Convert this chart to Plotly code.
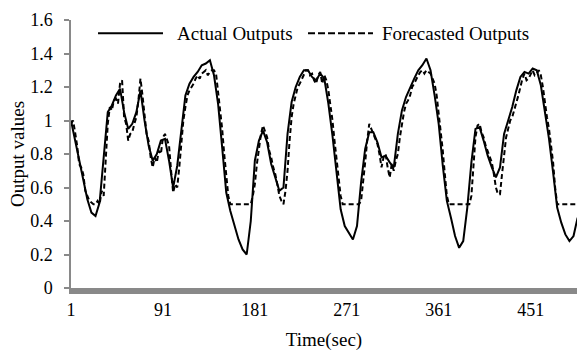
import plotly.graph_objects as go

# ---- data ----
time_sec = list(range(1, 498, 4))

actual_outputs = [
    1.00, 0.88, 0.77, 0.63, 0.53, 0.45, 0.43, 0.51, 0.78, 1.05,
    1.09, 1.15, 1.19, 1.05, 0.95, 0.98, 1.05, 1.18, 1.00, 0.85,
    0.76, 0.80, 0.88, 0.89, 0.76, 0.60, 0.73, 0.95, 1.15, 1.22,
    1.26, 1.29, 1.33, 1.34, 1.36, 1.27, 1.10, 0.84, 0.57, 0.46,
    0.37, 0.29, 0.23, 0.20, 0.40, 0.76, 0.88, 0.94, 0.87, 0.74,
    0.66, 0.58, 0.60, 0.92, 1.11, 1.20, 1.26, 1.30, 1.30, 1.26,
    1.24, 1.28, 1.25, 1.10, 0.91, 0.68, 0.47, 0.37, 0.33, 0.29,
    0.37, 0.63, 0.83, 0.93, 0.93, 0.87, 0.78, 0.79, 0.75, 0.72,
    0.92, 1.06, 1.14, 1.20, 1.25, 1.30, 1.33, 1.37, 1.30, 1.15,
    0.98, 0.73, 0.52, 0.42, 0.31, 0.24, 0.28, 0.48, 0.75, 0.95,
    0.96, 0.88, 0.79, 0.72, 0.66, 0.72, 0.92, 1.00, 1.08, 1.18,
    1.26, 1.29, 1.28, 1.31, 1.30, 1.21, 1.05, 0.89, 0.69, 0.48,
    0.39, 0.32, 0.28, 0.31, 0.42,
]

forecast_time_sec = list(range(1, 498, 2))

forecasted_outputs = [
    0.98, 1.00, 0.93, 0.85, 0.74, 0.72, 0.68, 0.58, 0.55, 0.52,  # t 1-19
    0.51, 0.50, 0.50, 0.52, 0.50, 0.58, 0.55, 0.80, 0.98, 1.08,  # t 21-39
    1.06, 1.12, 1.13, 1.10, 1.22, 1.24, 1.02, 0.98, 0.88, 0.92,  # t 41-59
    0.93, 0.98, 1.02, 1.12, 1.25, 1.15, 1.02, 0.92, 0.88, 0.78,  # t 61-79
    0.72, 0.78, 0.75, 0.82, 0.80, 0.90, 0.92, 0.88, 0.85, 0.70,  # t 81-99
    0.57, 0.62, 0.60, 0.72, 0.85, 1.00, 1.08, 1.15, 1.18, 1.20,  # t 101-119
    1.22, 1.25, 1.27, 1.25, 1.28, 1.29, 1.30, 1.27, 1.29, 1.30,  # t 121-139
    1.30, 1.28, 1.18, 1.08, 0.95, 0.80, 0.66, 0.55, 0.50, 0.50,  # t 141-159
    0.50, 0.50, 0.50, 0.50, 0.50, 0.50, 0.50, 0.50, 0.50, 0.55,  # t 161-179
    0.62, 0.74, 0.82, 0.92, 0.97, 0.93, 0.90, 0.82, 0.78, 0.72,  # t 181-199
    0.68, 0.62, 0.55, 0.52, 0.50, 0.58, 0.70, 0.88, 1.02, 1.10,  # t 201-219
    1.15, 1.20, 1.22, 1.25, 1.28, 1.30, 1.30, 1.27, 1.28, 1.24,  # t 221-239
    1.22, 1.27, 1.29, 1.22, 1.27, 1.24, 1.18, 1.10, 1.00, 0.88,  # t 241-259
    0.78, 0.65, 0.55, 0.50, 0.50, 0.50, 0.50, 0.50, 0.50, 0.50,  # t 261-279
    0.50, 0.50, 0.52, 0.62, 0.75, 0.88, 0.98, 0.95, 0.92, 0.88,  # t 281-299
    0.86, 0.80, 0.72, 0.78, 0.80, 0.72, 0.66, 0.74, 0.70, 0.76,  # t 301-319
    0.80, 0.90, 0.98, 1.05, 1.10, 1.12, 1.15, 1.20, 1.22, 1.25,  # t 321-339
    1.27, 1.29, 1.30, 1.28, 1.30, 1.29, 1.28, 1.25, 1.22, 1.15,  # t 341-359
    1.05, 0.95, 0.82, 0.68, 0.55, 0.50, 0.50, 0.50, 0.50, 0.50,  # t 361-379
    0.50, 0.50, 0.50, 0.50, 0.50, 0.50, 0.55, 0.72, 0.90, 0.97,  # t 381-399
    0.98, 0.93, 0.90, 0.85, 0.82, 0.78, 0.75, 0.68, 0.60, 0.56,  # t 401-419
    0.56, 0.68, 0.80, 0.90, 0.95, 1.00, 1.02, 1.06, 1.10, 1.15,  # t 421-439
    1.20, 1.25, 1.28, 1.24, 1.25, 1.28, 1.30, 1.27, 1.28, 1.30,  # t 441-459
    1.27, 1.20, 1.10, 1.02, 0.95, 0.85, 0.75, 0.60, 0.50, 0.50,  # t 461-479
    0.50, 0.50, 0.50, 0.50, 0.50, 0.50, 0.50, 0.50, 0.50,        # t 481-497
]

x_tick_values = [1, 91, 181, 271, 361, 451]
y_tick_values = [0, 0.2, 0.4, 0.6, 0.8, 1, 1.2, 1.4, 1.6]

series_names = ["Actual Outputs", "Forecasted Outputs"]

FONT = "Liberation Serif, Times New Roman, serif"
AXIS_GRAY = "#898989"

fig = go.Figure()
fig.add_trace(go.Scatter(
    x=time_sec, y=actual_outputs, mode="lines", name=series_names[0],
    line=dict(color="black", width=2), showlegend=False,
))
fig.add_trace(go.Scatter(
    x=forecast_time_sec, y=forecasted_outputs, mode="lines", name=series_names[1],
    line=dict(color="black", width=2, dash="5px,3px"), showlegend=False,
))

# manual legend (long line samples like the reference)
leg_y = 0.951
fig.add_shape(type="line", xref="paper", yref="paper",
              x0=0.0534, x1=0.1818, y0=leg_y, y1=leg_y,
              line=dict(color="black", width=2))
fig.add_shape(type="line", xref="paper", yref="paper",
              x0=0.4684, x1=0.5968, y0=leg_y, y1=leg_y,
              line=dict(color="black", width=2, dash="7px,3px"))
fig.add_annotation(xref="paper", yref="paper", x=0.2055, y=leg_y,
                   xanchor="left", yanchor="middle", showarrow=False,
                   text=series_names[0], font=dict(family=FONT, size=19, color="black"))
fig.add_annotation(xref="paper", yref="paper", x=0.6107, y=leg_y,
                   xanchor="left", yanchor="middle", showarrow=False,
                   text=series_names[1], font=dict(family=FONT, size=19, color="black"))

fig.update_layout(
    width=577, height=352,
    margin=dict(l=71, r=0, t=20, b=64, autoexpand=False),
    paper_bgcolor="white", plot_bgcolor="white",
    font=dict(family=FONT, size=18, color="black"),
    showlegend=False,
)
fig.update_xaxes(
    range=[1, 496.4], tickmode="array", tickvals=x_tick_values,
    ticktext=[str(v) for v in x_tick_values],
    showgrid=False, zeroline=False, automargin=False,
    showline=True, linecolor=AXIS_GRAY, linewidth=6,
    ticks="", tickfont=dict(family=FONT, size=18, color="black"),
    title=dict(text="Time(sec)", font=dict(family=FONT, size=19, color="black"), standoff=16),
)
fig.update_yaxes(
    range=[0, 1.6], tickmode="array", tickvals=y_tick_values,
    showgrid=False, zeroline=False, automargin=False,
    showline=True, linecolor=AXIS_GRAY, linewidth=1.5,
    ticks="outside", ticklen=5, tickcolor=AXIS_GRAY, tickwidth=1.5,
    ticklabelstandoff=8,
    tickfont=dict(family=FONT, size=18, color="black"),
    title=dict(text="Output values", font=dict(family=FONT, size=19, color="black"), standoff=1),
)

fig.write_html(
    "out.html",
    config={"displayModeBar": False},
    post_script="document.body.style.margin='0';document.body.style.overflow='hidden';",
)
